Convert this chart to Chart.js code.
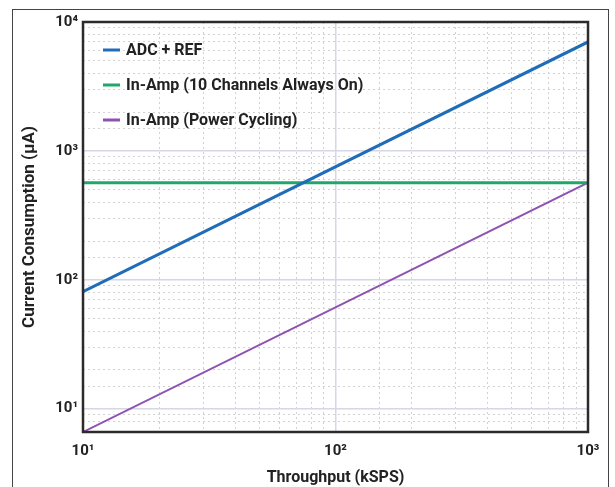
<!DOCTYPE html>
<html>
<head>
<meta charset="utf-8">
<script src="https://cdn.jsdelivr.net/npm/chart.js@4.4.0/dist/chart.umd.min.js"></script>
<style>
    html, body { margin: 0; padding: 0; background: #fff; overflow: hidden; }
    #wrap { position: relative; width: 615px; height: 487px; }
    #frame { position: absolute; left: 12px; top: 9px; width: 597px; height: 500px; border: 1px solid #444; box-sizing: border-box; }
    #chart { position: absolute; left: 0; top: 0; }
</style>
</head>
<body>
<div id="wrap">
    <div id="frame"></div>
    <canvas id="chart" width="615" height="487"></canvas>
</div>
<script>
// Data (log-log straight lines, end points)
const throughput = [10, 1000];
const adcRef = [81, 7000];
const inAmpAlwaysOn = [567, 567];
const inAmpPowerCycling = [6.6, 567];

const seriesNames = ['ADC + REF', 'In-Amp (10 Channels Always On)', 'In-Amp (Power Cycling)'];
const seriesColors = ['#1f6db8', '#1fa86a', '#8e52b3'];
const seriesWidths = [3, 3, 2];

const xRange = [10, 1000];
const yRange = [6.6, 10000];

const FONT = 'Roboto';
const TEXT = '#222';

const superscripts = { '0': '⁰', '1': '¹', '2': '²', '3': '³', '4': '⁴', '5': '⁵' };

function isDecade(v) {
    const e = Math.log10(v);
    return Math.abs(e - Math.round(e)) < 1e-6;
}

function decadeLabel(v) {
    if (!isDecade(v)) return '';
    const e = String(Math.round(Math.log10(v)));
    return '10' + e.split('').map(c => superscripts[c]).join('');
}

function gridColor(ctx) {
    if (!ctx.tick) return 'rgba(0,0,0,0)';
    return isDecade(ctx.tick.value) ? '#d6d6e6' : '#d2d2d2';
}

function gridWidth(ctx) {
    if (!ctx.tick) return 1;
    return isDecade(ctx.tick.value) ? 1.5 : 1;
}

function gridDash(ctx) {
    if (!ctx.tick) return [];
    return isDecade(ctx.tick.value) ? [] : [2, 3];
}

function makeDataset(i, values) {
    return {
        label: seriesNames[i],
        data: throughput.map((x, k) => ({ x: x, y: values[k] })),
        borderColor: seriesColors[i],
        backgroundColor: seriesColors[i],
        borderWidth: seriesWidths[i],
        pointRadius: 0,
        tension: 0
    };
}

// Legend drawn inside the plot area, top left
const insideLegend = {
    id: 'insideLegend',
    afterDatasetsDraw(chart) {
        const { ctx, chartArea } = chart;
        ctx.save();
        ctx.font = `bold 16px ${FONT}`;
        ctx.textBaseline = 'middle';
        ctx.fillStyle = TEXT;
        chart.data.datasets.forEach((ds, i) => {
            const y = chartArea.top + 28 + i * 35;
            const x = chartArea.left + 20;
            ctx.strokeStyle = ds.borderColor;
            ctx.lineWidth = 3;
            ctx.beginPath();
            ctx.moveTo(x, y);
            ctx.lineTo(x + 17, y);
            ctx.stroke();
            ctx.fillText(ds.label, x + 23, y + 1);
        });
        ctx.restore();
    }
};

// Dark frame round the plot area
const plotFrame = {
    id: 'plotFrame',
    afterDraw(chart) {
        const { ctx, chartArea } = chart;
        ctx.save();
        ctx.strokeStyle = '#2b2b2b';
        ctx.lineWidth = 2.5;
        ctx.strokeRect(chartArea.left, chartArea.top, chartArea.right - chartArea.left, chartArea.bottom - chartArea.top);
        ctx.restore();
    }
};

const ctx = document.getElementById('chart').getContext('2d');

new Chart(ctx, {
    type: 'line',
    data: {
        datasets: [
            makeDataset(0, adcRef),
            makeDataset(1, inAmpAlwaysOn),
            makeDataset(2, inAmpPowerCycling)
        ]
    },
    options: {
        responsive: false,
        animation: false,
        devicePixelRatio: 1,
        layout: {
            padding: { left: 0, right: 27, top: 22, bottom: 0 }
        },
        plugins: {
            legend: { display: false },
            tooltip: { enabled: false }
        },
        scales: {
            x: {
                type: 'logarithmic',
                min: xRange[0],
                max: xRange[1],
                afterFit: scale => { scale.height = 55; },
                ticks: {
                    autoSkip: false,
                    maxRotation: 0,
                    padding: 10,
                    color: TEXT,
                    font: { family: FONT, size: 15, weight: 'bold' },
                    callback: value => decadeLabel(value)
                },
                grid: {
                    drawTicks: false,
                    color: gridColor,
                    lineWidth: gridWidth
                },
                border: { display: false, dash: gridDash },
                title: {
                    display: true,
                    text: 'Throughput (kSPS)',
                    color: TEXT,
                    font: { family: FONT, size: 16, weight: 'bold' },
                    padding: { top: 0, bottom: -1 }
                }
            },
            y: {
                type: 'logarithmic',
                min: yRange[0],
                max: yRange[1],
                afterFit: scale => { scale.width = 83; },
                ticks: {
                    autoSkip: false,
                    padding: 5,
                    color: TEXT,
                    font: { family: FONT, size: 15, weight: 'bold' },
                    callback: value => decadeLabel(value)
                },
                grid: {
                    drawTicks: false,
                    color: gridColor,
                    lineWidth: gridWidth
                },
                border: { display: false, dash: gridDash },
                title: {
                    display: true,
                    text: 'Current Consumption (µA)',
                    color: TEXT,
                    font: { family: FONT, size: 17, weight: 'bold' },
                    padding: { top: 20, bottom: 0 }
                }
            }
        }
    },
    plugins: [insideLegend, plotFrame]
});
</script>
</body>
</html>
